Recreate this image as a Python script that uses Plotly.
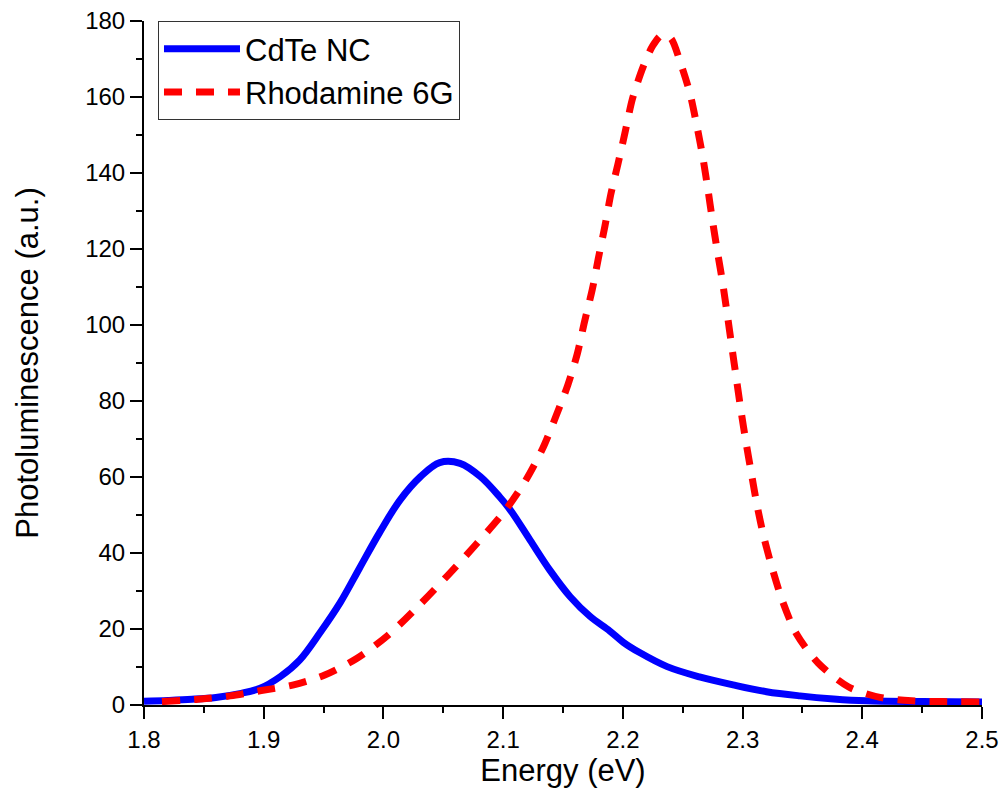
import plotly.graph_objects as go

# CdTe NC photoluminescence
cdte_energy = [1.800, 1.820, 1.840, 1.860, 1.880, 1.897, 1.914, 1.930, 1.947, 1.964,
               1.980, 1.997, 2.014, 2.031, 2.047, 2.064, 2.081, 2.097, 2.106, 2.1225,
               2.139, 2.156, 2.1726, 2.189, 2.2004, 2.214, 2.237, 2.264, 2.292, 2.320,
               2.348, 2.376, 2.403, 2.450, 2.500]
cdte_pl = [1.0, 1.2, 1.5, 2.0, 3.0, 4.4, 7.5, 11.8, 19.0, 27.0,
           36.0, 45.5, 54.0, 60.1, 63.8, 63.6, 60.1, 54.8, 51.3, 43.4,
           35.5, 28.5, 23.3, 19.5, 16.5, 13.8, 10.1, 7.4, 5.3, 3.5,
           2.4, 1.6, 1.1, 0.9, 0.8]

# Rhodamine 6G photoluminescence
r6g_energy = [1.815, 1.845, 1.872, 1.898, 1.925, 1.951, 1.978, 2.004, 2.030, 2.054,
              2.078, 2.101, 2.119, 2.133, 2.144, 2.154, 2.162, 2.168, 2.1745, 2.1795,
              2.185, 2.190, 2.196, 2.202, 2.208, 2.217, 2.225, 2.2325, 2.240, 2.2478,
              2.256, 2.2617, 2.2667, 2.2709, 2.2748, 2.279, 2.2834, 2.2873, 2.291, 2.295,
              2.2988, 2.303, 2.3076, 2.3123, 2.318, 2.3252, 2.3335, 2.3447, 2.3633, 2.3883,
              2.4148, 2.4413, 2.468, 2.500]
r6g_pl = [0.9, 1.5, 2.4, 3.8, 5.3, 7.9, 12.3, 18.4, 26.3, 34.2,
          42.5, 50.9, 59.2, 67.5, 75.9, 84.2, 92.5, 100.9, 109.4, 117.5,
          126.0, 134.5, 142.5, 150.9, 159.5, 168.0, 173.5, 176.3, 175.5, 169.3,
          161.0, 152.6, 144.3, 136.0, 127.6, 119.3, 111.0, 102.6, 94.3, 85.5,
          77.2, 68.9, 60.5, 52.2, 43.9, 35.5, 27.2, 18.9, 11.0, 4.8,
          2.0, 1.1, 0.9, 0.8]

series_names = ["CdTe NC", "Rhodamine 6G"]
x_ticks = [1.8, 1.9, 2.0, 2.1, 2.2, 2.3, 2.4, 2.5]
y_ticks = [0, 20, 40, 60, 80, 100, 120, 140, 160, 180]

FONT = "Liberation Sans, Arial, sans-serif"

fig = go.Figure()
fig.add_trace(go.Scatter(
    x=cdte_energy, y=cdte_pl, mode="lines", name=series_names[0],
    line=dict(color="#0000FF", width=7, shape="spline", smoothing=1.0),
))
fig.add_trace(go.Scatter(
    x=r6g_energy, y=r6g_pl, mode="lines", name=series_names[1],
    line=dict(color="#FF0000", width=7, dash="18px,14px", shape="spline", smoothing=0.8),
))

axis_common = dict(
    showline=True, linecolor="black", linewidth=2, mirror=False,
    ticks="outside", ticklen=12, tickwidth=2, tickcolor="black",
    showgrid=False, zeroline=False, automargin=False,
    tickfont=dict(family=FONT, size=24, color="black"),
)

fig.update_xaxes(
    range=[1.8, 2.5], tickvals=x_ticks, ticktext=[f"{v:.1f}" for v in x_ticks],
    minor=dict(ticks="outside", ticklen=6, tickwidth=2, tickcolor="black", dtick=0.05, showgrid=False),
    title=dict(text="Energy (eV)", font=dict(family=FONT, size=31, color="black"), standoff=0),
    **axis_common,
)
fig.update_yaxes(
    range=[0, 180], tickvals=y_ticks,
    minor=dict(ticks="outside", ticklen=6, tickwidth=2, tickcolor="black", dtick=10, showgrid=False),
    title=dict(text="Photoluminescence (a.u.)", font=dict(family=FONT, size=31, color="black"), standoff=37),
    **axis_common,
)

fig.update_layout(
    width=1006, height=809,
    margin=dict(l=144, r=24, t=21, b=104, autoexpand=False),
    paper_bgcolor="white", plot_bgcolor="white",
    font=dict(family=FONT, color="black"),
    legend=dict(
        x=0.0167, y=1.0, xanchor="left", yanchor="top",
        bgcolor="white", bordercolor="#333333", borderwidth=1,
        font=dict(family=FONT, size=31, color="black"),
        itemwidth=76, tracegroupgap=0,
    ),
)

fig.write_html("out.html")
